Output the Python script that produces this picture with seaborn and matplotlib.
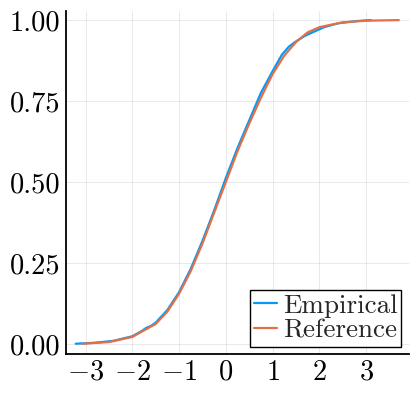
import matplotlib
matplotlib.use("Agg")
import matplotlib.pyplot as plt
import seaborn as sns
import pandas as pd

# curve points
emp_x = [-3.21, -2.8, -2.4, -2.0, -1.8, -1.7, -1.6, -1.5, -1.25, -1.0, -0.75, -0.5,
         -0.25, 0.0, 0.25, 0.5, 0.75, 1.0, 1.2, 1.35, 1.5, 1.7, 1.9, 2.1, 2.4, 2.8, 3.1]
emp_y = [0.001, 0.004, 0.01, 0.024, 0.04, 0.05, 0.056, 0.066, 0.105, 0.16, 0.232, 0.318,
         0.412, 0.512, 0.605, 0.69, 0.775, 0.842, 0.893, 0.918, 0.934, 0.952, 0.965, 0.978,
         0.99, 0.997, 1.0]

ref_x = [-3.07, -2.5, -2.0, -1.5, -1.25, -1.0, -0.75, -0.5, -0.25, 0.0, 0.25, 0.5,
         0.75, 1.0, 1.25, 1.5, 1.75, 2.0, 2.5, 3.0, 3.7]
ref_y = [0.001, 0.006, 0.022, 0.062, 0.10, 0.155, 0.225, 0.31, 0.405, 0.50, 0.595, 0.68,
         0.76, 0.833, 0.89, 0.932, 0.962, 0.978, 0.993, 0.998, 1.0]

x_ticks = [-3, -2, -1, 0, 1, 2, 3]
y_ticks = [0.0, 0.25, 0.5, 0.75, 1.0]
y_labels = ["0.00", "0.25", "0.50", "0.75", "1.00"]

sns.set_style("white")
plt.rcParams["font.family"] = ["cmr10"]
plt.rcParams["mathtext.fontset"] = "cm"
plt.rcParams["axes.formatter.use_mathtext"] = True

emp = pd.DataFrame({"x": emp_x, "y": emp_y})
ref = pd.DataFrame({"x": ref_x, "y": ref_y})

fig = plt.figure(figsize=(4.17, 3.93), dpi=100)
ax = fig.add_axes([0.158, 0.099, 0.823, 0.873])

sns.lineplot(data=emp, x="x", y="y", sort=False, color="#009AFA", lw=1.6, label="Empirical", ax=ax)
sns.lineplot(data=ref, x="x", y="y", sort=False, color="#E36F47", lw=1.6, label="Reference", ax=ax)

ax.set_xlim(-3.42, 3.92)
ax.set_ylim(-0.031, 1.028)
ax.set_xticks(x_ticks)
ax.set_xticklabels([f"${t}$" for t in x_ticks])
ax.set_yticks(y_ticks)
ax.set_yticklabels(y_labels)
ax.set_xlabel("")
ax.set_ylabel("")
ax.grid(True, color="black", alpha=0.1, lw=0.6)
ax.tick_params(direction="in", length=4, width=0.8, labelsize=20.5, pad=4, colors="black")
for s in ["top", "right"]:
    ax.spines[s].set_visible(False)
for s in ["left", "bottom"]:
    ax.spines[s].set_color("black")
    ax.spines[s].set_linewidth(1.3)

leg = ax.legend(loc="lower right", fontsize=19.5, frameon=True, fancybox=False,
                handlelength=0.85, handletextpad=0.2, borderpad=0.15, labelspacing=0.02,
                borderaxespad=0.28)
leg.get_frame().set_edgecolor("black")
leg.get_frame().set_linewidth(1.0)
leg.get_frame().set_alpha(1)

fig.savefig("out.png", dpi=100)
